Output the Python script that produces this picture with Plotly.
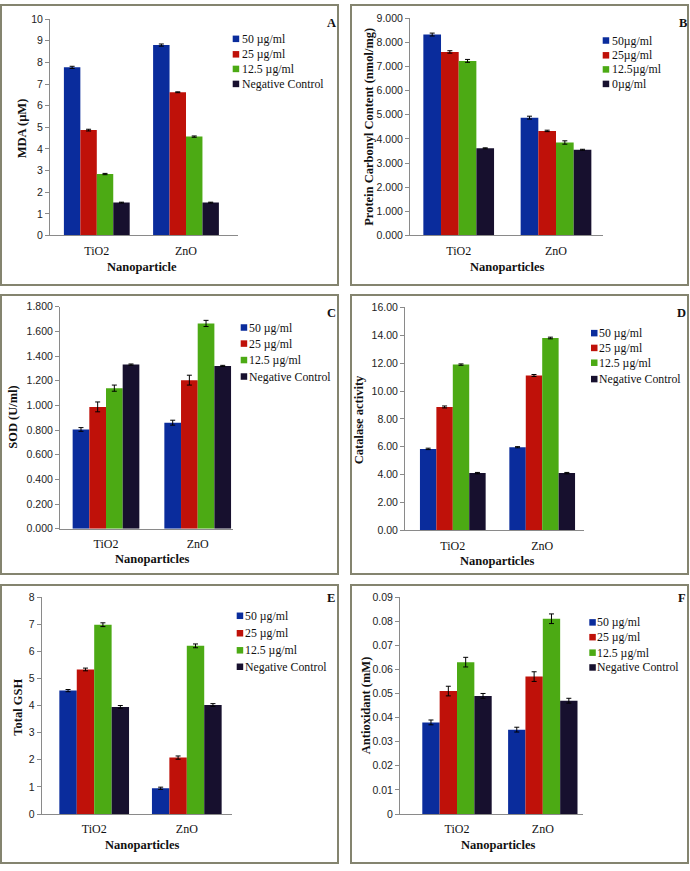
import plotly.graph_objects as go

W, H = 690, 871

categories = ["TiO2", "ZnO"]
conc_std = ["50 µg/ml", "25 µg/ml", "12.5 µg/ml", "Negative Control"]
conc_b = ["50µg/ml", "25µg/ml", "12.5µg/ml", "0µg/ml"]
colors = ["#0A2C9C", "#BF1109", "#4CAA14", "#17102E"]

# Panel A – MDA
mda_vals = [[7.77, 8.80], [4.87, 6.62], [2.84, 4.57], [1.52, 1.52]]
mda_err = [[0.05, 0.05], [0.04, 0.02], [0.03, 0.03], [0.02, 0.02]]
# Panel B – protein carbonyl
pc_vals = [[8.32, 4.88], [7.60, 4.33], [7.23, 3.85], [3.61, 3.55]]
pc_err = [[0.06, 0.06], [0.05, 0.03], [0.06, 0.07], [0.02, 0.02]]
# Panel C – SOD
sod_vals = [[0.805, 0.860], [0.988, 1.205], [1.140, 1.665], [1.331, 1.320]]
sod_err = [[0.015, 0.02], [0.04, 0.04], [0.025, 0.025], [0.005, 0.005]]
# Panel D – catalase
cat_vals = [[5.85, 5.97], [8.86, 11.12], [11.90, 13.81], [4.11, 4.11]]
cat_err = [[0.05, 0.04], [0.07, 0.07], [0.05, 0.06], [0.05, 0.05]]
# Panel E – total GSH
gsh_vals = [[4.55, 0.95], [5.33, 2.08], [6.98, 6.20], [3.95, 4.02]]
gsh_err = [[0.04, 0.04], [0.05, 0.06], [0.07, 0.07], [0.05, 0.05]]
# Panel F – antioxidant
ao_vals = [[0.038, 0.035], [0.051, 0.057], [0.063, 0.081], [0.049, 0.047]]
ao_err = [[0.001, 0.001], [0.002, 0.002], [0.002, 0.002], [0.001, 0.001]]

SERIF = "Liberation Serif, Times New Roman, serif"
SANS = "Liberation Sans, Arial, sans-serif"

panels = [
    dict(v=mda_vals, e=mda_err, names=conc_std, yt="MDA (µM)", xt="Nanoparticle", L="A",
         ymax=10, dtick=1, fmt="d", xs=50, xe=238, ytop=13.3, y0=232.7, c0=96.8, c1=186, w=65.8,
         ytp=(22, 124), xtp=(142, 265), leg=(232.7, 240.5, [33.3, 49, 63.8, 79]), lp=(331, 17)),
    dict(v=pc_vals, e=pc_err, names=conc_b, yt="Protein Carbonyl Content (nmol/mg)", xt="Nanoparticles", L="B",
         ymax=9, dtick=1, fmt=".3f", xs=410, xe=603, ytop=12.3, y0=232.7, c0=458.7, c1=556, w=70.7,
         ytp=(369, 122.5), xtp=(507, 265), leg=(602.7, 610.5, [35, 50, 64.3, 79]), lp=(683, 17)),
    dict(v=sod_vals, e=sod_err, names=conc_std, yt="SOD (U/ml)", xt="Nanoparticles", L="C",
         ymax=1.8, dtick=0.2, fmt=".3f", xs=60, xe=233, ytop=305, y0=530, c0=106, c1=197.7, w=66.7,
         ytp=(13, 416.5), xtp=(152, 561), leg=(240.7, 248.3, [326, 342.3, 359, 375.7]), lp=(331, 311.5)),
    dict(v=cat_vals, e=cat_err, names=conc_std, yt="Catalase activity", xt="Nanoparticles", L="D",
         ymax=16, dtick=2, fmt=".2f", xs=405, xe=584, ytop=305.7, y0=531.7, c0=452.8, c1=542.2, w=65.7,
         ytp=(359, 419), xtp=(497, 563), leg=(591, 598, [331.7, 346.7, 361.7, 378.3]), lp=(681.5, 311.5)),
    dict(v=gsh_vals, e=gsh_err, names=conc_std, yt="Total GSH", xt="Nanoparticles", L="E",
         ymax=8, dtick=1, fmt="d", xs=41.7, xe=232, ytop=599.3, y0=819.3, c0=94.2, c1=186.8, w=69.7,
         ytp=(18, 711.5), xtp=(142, 851), leg=(236.7, 243.5, [618.3, 636, 653.3, 670]), lp=(331, 600)),
    dict(v=ao_vals, e=ao_err, names=conc_std, yt="Antioxidant (mM)", xt="Nanoparticles", L="F",
         ymax=0.09, dtick=0.01, fmt="~g", xs=400, xe=583, ytop=599.3, y0=819.3, c0=457, c1=542.8, w=69.4,
         ytp=(366, 709), xtp=(498, 851), leg=(589.3, 595.5, [625, 640, 655.7, 670.7]), lp=(681.5, 600)),
]

fig = go.Figure()
shapes, annotations = [], []
layout = {}


def px(x):
    return x / W


def py(y):
    return 1 - y / H


for i, p in enumerate(panels):
    n = i + 1
    xa = "x" if n == 1 else f"x{n}"
    ya = "y" if n == 1 else f"y{n}"
    cat = p["c1"] - p["c0"]
    bw = (p["w"] / cat) / 4
    lx0, tx, ys = p["leg"]
    for k in range(4):
        fig.add_trace(go.Bar(
            x=categories, y=p["v"][k], name=p["names"][k],
            marker=dict(color=colors[k], line=dict(width=0)),
            width=bw, offset=-2 * bw + k * bw,
            error_y=dict(type="data", array=p["e"][k], color="#000000", thickness=1, width=2.5),
            xaxis=xa, yaxis=ya, showlegend=False,
        ))
        shapes.append(dict(type="rect", xref="paper", yref="paper",
                           x0=px(lx0), x1=px(lx0 + 6.5), y0=py(ys[k] + 3.3), y1=py(ys[k] - 3.3),
                           fillcolor=colors[k], line=dict(width=0)))
        annotations.append(dict(text=p["names"][k], xref="paper", yref="paper",
                                x=px(tx), y=py(ys[k]), xanchor="left", yanchor="middle",
                                showarrow=False, borderpad=0,
                                font=dict(family=SERIF, size=11.8, color="#111")))
    r0 = -(p["c0"] - p["xs"]) / cat
    r1 = 1 + (p["xe"] - p["c1"]) / cat
    kx = "xaxis" if n == 1 else f"xaxis{n}"
    ky = "yaxis" if n == 1 else f"yaxis{n}"
    layout[kx] = dict(domain=[px(p["xs"]), px(p["xe"])], anchor=ya, range=[r0, r1],
                      type="category", showline=True, linecolor="#8a8a8a", linewidth=1,
                      ticks="", showgrid=False, zeroline=False,
                      tickfont=dict(family=SERIF, size=12, color="#111"), ticklabelstandoff=4)
    yfmt = "" if p["fmt"] == "d" else p["fmt"]
    layout[ky] = dict(domain=[py(p["y0"]), py(p["ytop"])], anchor=xa, range=[0, p["ymax"]],
                      dtick=p["dtick"], tick0=0, tickformat=yfmt, showline=True, linecolor="#8a8a8a",
                      linewidth=1, ticks="outside", ticklen=4, tickcolor="#8a8a8a", showgrid=False,
                      zeroline=False, tickfont=dict(family=SANS, size=10.5, color="#222"))
    annotations.append(dict(text=f"<b>{p['yt']}</b>", xref="paper", yref="paper",
                            x=px(p["ytp"][0]), y=py(p["ytp"][1]), textangle=-90,
                            xanchor="center", yanchor="middle", showarrow=False,
                            font=dict(family=SERIF, size=12.5, color="#111")))
    annotations.append(dict(text=f"<b>{p['xt']}</b>", xref="paper", yref="paper",
                            x=px(p["xtp"][0]), y=py(p["xtp"][1]),
                            xanchor="center", yanchor="middle", showarrow=False,
                            font=dict(family=SERIF, size=12.5, color="#111")))
    annotations.append(dict(text=f"<b>{p['L']}</b>", xref="paper", yref="paper",
                            x=px(p["lp"][0]), y=py(p["lp"][1]),
                            xanchor="center", yanchor="middle", showarrow=False,
                            font=dict(family=SERIF, size=12.5, color="#111")))

# panel frames
frames = [(1, -1, 338, 283), (351, -1, 688, 283),
          (1, 293, 338, 576), (351, 293, 688, 576),
          (1, 587, 338, 869), (351, 587, 688, 869)]
for (x0, y0, x1, y1) in frames:
    shapes.append(dict(type="rect", xref="paper", yref="paper", layer="below",
                       x0=px(x0), x1=px(x1), y0=py(y1), y1=py(y0),
                       line=dict(color="#84846f", width=2), fillcolor="rgba(0,0,0,0)"))

fig.update_layout(
    width=W, height=H, margin=dict(l=0, r=0, t=0, b=0),
    paper_bgcolor="white", plot_bgcolor="white",
    barmode="overlay", showlegend=False,
    shapes=shapes, annotations=annotations, **layout,
)

fig.write_html("out.html", config={"displayModeBar": False},
               post_script="document.body.style.margin='0';document.body.style.overflow='hidden';")
